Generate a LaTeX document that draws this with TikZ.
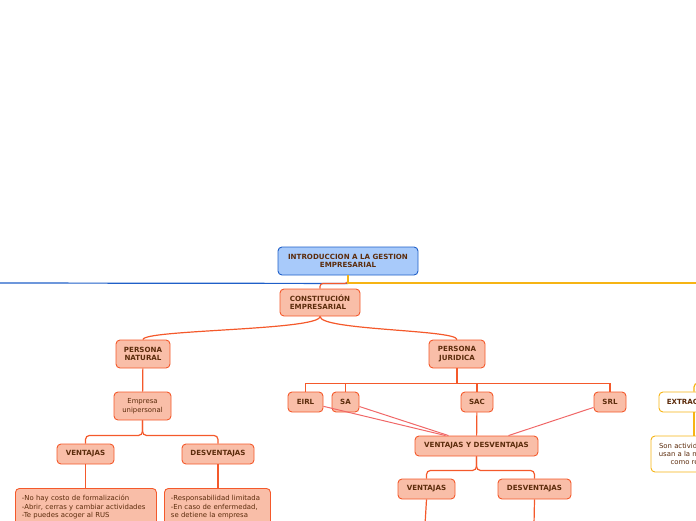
\documentclass[tikz,border=0pt]{standalone}
\usepackage{fontspec}
\setmainfont{DejaVu Sans}
\definecolor{mmBlue}{RGB}{31, 95, 200}
\definecolor{mmBlueFill}{RGB}{168, 202, 250}
\definecolor{mmRed}{RGB}{244, 89, 43}
\definecolor{mmRedFill}{RGB}{249, 190, 168}
\definecolor{mmPink}{RGB}{240, 104, 104}
\definecolor{mmYellow}{RGB}{246, 180, 20}
\definecolor{mmText}{RGB}{92, 44, 12}
\usetikzlibrary{calc}
\newcommand{\mapfont}{\fontsize{6.9}{8.4}\selectfont}
\newcommand{\mapbold}{\fontsize{7.1}{8.2}\selectfont\bfseries}
\tikzset{
  topic/.style={rectangle, rounded corners=4pt, draw=mmRed, line width=0.9pt, fill=mmRedFill, text=mmText, font=\mapbold, align=center, inner sep=1pt, minimum height=20pt},
  roottopic/.style={topic, draw=mmBlue, fill=mmBlueFill, minimum height=28pt},
  notebox/.style={topic, font=\mapfont, align=left, anchor=north west, inner xsep=6.5pt, inner ysep=7pt},
  yellowbox/.style={topic, draw=mmYellow, fill=white},
  link/.style={mmRed, line width=1.2pt},
  linkpink/.style={mmPink, line width=1pt},
  blueline/.style={mmBlue, line width=1.2pt},
  yellowline/.style={mmYellow, line width=1.2pt},
}

\begin{document}
\begin{tikzpicture}[x=1pt, y=-1pt]
  \useasboundingbox (0,0) rectangle (696,520);
  \clip (0,0) rectangle (696,520);

  % central topic and main branches
  \node[roottopic, minimum width=140pt] (root) at (348, 261) {INTRODUCCION A LA GESTION\\EMPRESARIAL};
  \node[topic, minimum width=80pt, minimum height=27pt, align=left] (constitucion) at (320, 302.5) {CONSTITUCIÓN\\EMPRESARIAL};
  \coordinate (lftend) at (-5, 283);
  \coordinate (rgtend) at (705, 283);

  % persona natural
  \node[topic, minimum width=54pt, minimum height=28pt] (natural) at (143, 354) {PERSONA\\NATURAL};
  \node[topic, font=\mapfont, minimum width=57pt, minimum height=28pt] (unipersonal) at (142.5, 406) {Empresa\\unipersonal};
  \node[topic, minimum width=57pt] (ventN) at (85.5, 454) {VENTAJAS};
  \node[topic, minimum width=72pt] (desvN) at (218, 454) {DESVENTAJAS};
  \node[notebox, text width=128pt] (ventNtxt) at (15, 488) {-No hay costo de formalización\\-Abrir, cerras y cambiar actividades\\-Te puedes acoger al RUS};
  \node[notebox, text width=93pt] (desvNtxt) at (164, 488) {-Responsabilidad limitada\\-En caso de enfermedad,\\se detiene la empresa};

  % persona juridica
  \node[topic, minimum width=56pt, minimum height=28pt] (juridica) at (457, 354) {PERSONA\\JURIDICA};
  \node[topic, minimum width=35pt] (eirl) at (305.5, 402) {EIRL};
  \node[topic, minimum width=27pt] (sa) at (345.5, 402) {SA};
  \node[topic, minimum width=32pt] (sac) at (477, 402) {SAC};
  \node[topic, minimum width=32pt] (srl) at (610, 402) {SRL};
  \node[topic, minimum width=123pt] (vyd) at (476.5, 446) {VENTAJAS Y DESVENTAJAS};
  \node[topic, minimum width=57pt] (ventJ) at (426.5, 489) {VENTAJAS};
  \node[topic, minimum width=73pt] (desvJ) at (534.5, 489) {DESVENTAJAS};
  \coordinate (ventJend) at (425, 525);
  \coordinate (desvJend) at (534, 525);

  % extractivas (yellow branch)
  \node[yellowbox, minimum width=70pt] (extract) at (694, 402) {EXTRACTIVAS};
  \node[yellowbox, font=\mapfont, minimum width=86pt, minimum height=36pt] (extractTxt) at (694, 454) {Son actividades que\\usan a la naturaleza\\como recurso};
  \coordinate (extParent) at (740, 383);

  % connectors
  \draw[blueline] (root.south) ++(0,8) -- (lftend);
  \draw[link, rounded corners=3pt] (root.south) -- ++(0,8) -| (constitucion.north);
  \draw[yellowline] (root.south) |- (rgtend);

  \draw[link] (constitucion.south) .. controls +(0,14) and +(0,-10) .. (natural.north);
  \draw[link] (constitucion.south) .. controls +(0,14) and +(0,-10) .. (juridica.north);

  \draw[link] (natural) -- (unipersonal);
  \draw[link, rounded corners=4pt] (unipersonal.south) -- ++(0,15) -| (ventN.north);
  \draw[link, rounded corners=4pt] (unipersonal.south) -- ++(0,15) -| (desvN.north);
  \draw[link] (ventN) -- (ventNtxt.north -| ventN.south);
  \draw[link] (desvN) -- (desvNtxt.north -| desvN.south);

  \foreach \sub in {eirl, sa, sac, srl}
    \draw[link] (juridica.south) -- ++(0,15) -| (\sub.north);
  \draw[linkpink] (eirl) -- ([xshift=-31pt]vyd.north);
  \draw[linkpink] (sa) -- ([xshift=-28pt]vyd.north);
  \draw[link] (sac) -- (vyd);
  \draw[linkpink] (srl) -- ([xshift=32pt]vyd.north);
  \draw[link, rounded corners=4pt] (vyd.south) -- ++(0,14) -| (ventJ.north);
  \draw[link, rounded corners=4pt] (vyd.south) -- ++(0,14) -| (desvJ.north);
  \draw[link] (ventJ.south) -- (ventJend);
  \draw[link] (desvJ.south) -- (desvJend);

  \draw[yellowline, rounded corners=4pt] (extract.north) |- (extParent);
  \draw[yellowline] (extract) -- (extractTxt);
\end{tikzpicture}
\end{document}
